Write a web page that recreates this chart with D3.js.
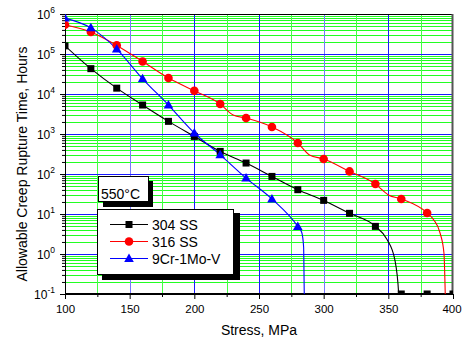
<!DOCTYPE html>
<html><head><meta charset="utf-8">
<script src="https://cdn.jsdelivr.net/npm/d3@7"></script>
<style>body{margin:0;background:#fff}svg{display:block;font-family:Arial,"Liberation Sans",sans-serif}</style>
</head><body><svg id="c" width="462" height="338"></svg>
<script>
// ---- data ----
const stressSteps = [100,120,140,160,180,200,220,240,260,280,300,320,340,360,380,400];
const ss304 = [1.6e5,4.3e4,1.4e4,5.3e3,2.07e3,870,367,188,87,40.5,21.9,10.4,4.9,0.1,0.1,0.1];
const ss316 = [5.4e5,3.55e5,1.64e5,6.5e4,2.5e4,1.2e4,5.6e3,2.5e3,1.5e3,596,237,116,56,23.7,10.6,null];
const cr9   = [7.9e5,4.5e5,1.33e5,2.4e4,5.3e3,1060,302,79,23.7,4.9,null,null,null,null,null,null];
// extra curve points (stress, hours)
const curve304Extra = [[349,2.3],[355,0.72],[358,0.1],[358.2,0.05]];
const curve316Extra = [[230,3000],[289,300],[350,30],[385,7.2],[390,3.35],[393,1.06],[394,0.1],[394.2,0.05]];
const cr9Extra = [[283,3.5],[284.5,1.5],[285,0.1],[285.2,0.05]];
const seriesNames = ["304 SS","316 SS","9Cr-1Mo-V"];
const seriesColors = ["#000000","#ff0000","#0000ff"];
const seriesShapes = ["square","circle","triangle"];
const xTicks = [100,150,200,250,300,350,400];
const yDecades = [-1,0,1,2,3,4,5,6];
const xLabel = "Stress, MPa";
const yLabel = "Allowable Creep Rupture Time, Hours";
const tempLabel = "550°C";

// ---- chart ----
const svg = d3.select("#c");
const L=65,R=453,T=14,B=294;
const x = d3.scaleLinear().domain([100,400]).range([L,R]);
const y = d3.scaleLog().domain([0.1,1e6]).range([B,T]);

svg.append("defs").append("clipPath").attr("id","clip")
  .append("rect").attr("x",L).attr("y",T).attr("width",R-L).attr("height",B-T);

const grid = svg.append("g").attr("shape-rendering","crispEdges");
const hMinor=[], hMajor=[];
for (let e=-1;e<6;e++){ for(let k=2;k<=9;k++) hMinor.push(k*Math.pow(10,e)); if(e>-1) hMajor.push(Math.pow(10,e)); }
grid.selectAll(".hm").data(hMinor).join("line").attr("x1",L).attr("x2",R)
  .attr("y1",d=>Math.round(y(d))+0.5).attr("y2",d=>Math.round(y(d))+0.5).attr("stroke","#22ff22").attr("stroke-width",1);
const vVals = d3.range(125,400,25);
grid.selectAll(".vm").data(vVals.filter(v=>v%50!==0)).join("line").attr("y1",T).attr("y2",B)
  .attr("x1",d=>Math.round(x(d))+0.5).attr("x2",d=>Math.round(x(d))+0.5).attr("stroke","#44ff44");
grid.selectAll(".vM").data(vVals.filter(v=>v%50===0)).join("line").attr("y1",T).attr("y2",B)
  .attr("x1",d=>Math.round(x(d))+0.5).attr("x2",d=>Math.round(x(d))+0.5)
  .attr("stroke",d=>(d===150||d===300)?"#7878ff":"#1a1aff");
grid.selectAll(".hM").data(hMajor).join("line").attr("x1",L).attr("x2",R)
  .attr("y1",d=>Math.round(y(d))+0.5).attr("y2",d=>Math.round(y(d))+0.5).attr("stroke","#1a1aff");

// axes
const xAxis = svg.append("g").attr("transform",`translate(0,${B})`)
  .call(d3.axisBottom(x).tickValues(xTicks).tickSize(5).tickSizeOuter(0).tickFormat(d3.format("d")));
svg.append("g").attr("transform",`translate(0,${B})`)
  .call(d3.axisBottom(x).tickValues(d3.range(125,400,50)).tickSize(3).tickSizeOuter(0).tickFormat(""))
  .select(".domain").remove();
xAxis.selectAll("text").attr("font-size",11.5).attr("font-family","Arial, Liberation Sans").attr("fill","#000").attr("dy","0.95em")
  .attr("dx",d=>d===400?-1.5:0);
const yAxis = svg.append("g").attr("transform",`translate(${L},0)`)
  .call(d3.axisLeft(y).tickValues(yDecades.map(e=>Math.pow(10,e))).tickSize(5).tickSizeOuter(0).tickFormat(""));
svg.append("g").attr("transform",`translate(${L},0)`)
  .call(d3.axisLeft(y).tickValues(hMinor).tickSize(3).tickSizeOuter(0).tickFormat(""))
  .select(".domain").remove();
svg.selectAll(".tick line").attr("stroke","#000");
yAxis.selectAll(".tick").each(function(d){
  const t = d3.select(this).append("text").attr("x",-10).attr("y",4).attr("text-anchor","end")
    .attr("fill","#000").attr("font-size",12);
  t.append("tspan").text("10");
  t.append("tspan").attr("dy",-6).attr("font-size",8.5).text(String(Math.round(Math.log10(d))));
});

// frame
svg.append("rect").attr("x",L+0.5).attr("y",T+0.5).attr("width",R-L-1).attr("height",B-T-1)
  .attr("fill","none").attr("stroke","#000").attr("shape-rendering","crispEdges");
svg.append("line").attr("x1",R-0.5).attr("x2",R-0.5).attr("y1",T).attr("y2",B).attr("stroke","#555").attr("stroke-width",2);

// labels
svg.append("text").attr("x",259).attr("y",335).attr("text-anchor","middle").attr("font-size",14).text(xLabel);
svg.append("text").attr("transform","translate(27,164) rotate(-90)").attr("text-anchor","middle").attr("font-size",14).text(yLabel);

// series
const allVals=[ss304,ss316,cr9], extras=[curve304Extra,curve316Extra,cr9Extra];
const plot = svg.append("g").attr("clip-path","url(#clip)");
const line = d3.line().x(d=>x(d[0])).y(d=>y(d[1])).curve(d3.curveMonotoneX);
function marker(g,shape,color,cx,cy){
  if(shape==="square") g.append("rect").attr("x",cx-3.5).attr("y",cy-3.5).attr("width",7).attr("height",7).attr("fill",color);
  else if(shape==="circle") g.append("circle").attr("cx",cx).attr("cy",cy).attr("r",4.3).attr("fill",color);
  else g.append("path").attr("d",`M${cx},${cy-5}L${cx+4.8},${cy+3.5}L${cx-4.8},${cy+3.5}Z`).attr("fill",color);
}
allVals.forEach((vals,i)=>{
  const pts = stressSteps.map((s,j)=>[s,vals[j]]).filter(p=>p[1]!=null && p[1]>0.1);
  const cpts = pts.concat(extras[i]).sort((a,b)=>a[0]-b[0]);
  plot.append("path").attr("d",line(cpts)).attr("fill","none").attr("stroke",seriesColors[i]).attr("stroke-width",1.1);
});
allVals.forEach((vals,i)=>{
  stressSteps.forEach((s,j)=>{ if(vals[j]!=null) marker(plot,seriesShapes[i],seriesColors[i],x(s),y(vals[j])); });
});

// temperature box
svg.append("rect").attr("x",103).attr("y",181).attr("width",50).attr("height",26).attr("fill","#000");
svg.append("rect").attr("x",98.5).attr("y",176.5).attr("width",50).attr("height",25).attr("fill","#fff").attr("stroke","#000");
svg.append("text").attr("x",101).attr("y",194).attr("font-size",14).attr("dy","0.35em").text(tempLabel);

// legend
svg.append("rect").attr("x",102).attr("y",213).attr("width",138).attr("height",67).attr("fill","#000");
svg.append("rect").attr("x",97.5).attr("y",209.5).attr("width",136).attr("height",65).attr("fill","#fff").attr("stroke","#000");
const rows=[224.5,241.5,258.5];
seriesNames.forEach((n,i)=>{
  const g=svg.append("g");
  g.append("line").attr("x1",110).attr("x2",148).attr("y1",rows[i]).attr("y2",rows[i]).attr("stroke",seriesColors[i]);
  marker(g,seriesShapes[i],seriesColors[i],129,rows[i]);
  g.append("text").attr("x",152).attr("y",rows[i]).attr("dy","0.36em").attr("font-size",14).text(n);
});
</script></body></html>
